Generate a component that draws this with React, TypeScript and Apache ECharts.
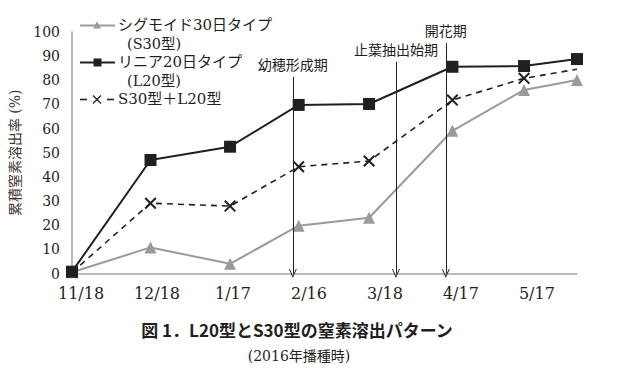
import React, { useEffect, useRef } from "react";
import * as echarts from "echarts";

// days since 11/18 for each measurement
const days = [0, 31, 62.4, 89.5, 117.3, 150.2, 178.5, 199.4];
const s30Values = [0.5, 10.8, 4.0, 19.8, 23.1, 59.1, 76.0, 80.1];
const l20Values = [0.75, 47.0, 52.5, 69.8, 70.2, 85.6, 85.9, 88.8];
const mixValues = [0.5, 29.1, 27.9, 44.2, 46.6, 71.8, 80.8, 84.6];
const tickLabels = ["11/18", "12/18", "1/17", "2/16", "3/18", "4/17", "5/17"];
const stageNames = ["幼穂形成期", "止葉抽出始期", "開花期"];
const stageDays = [87.2, 127.9, 147.6];
const stageTops = [81.4, 87.6, 95.4];

const seriesNames = ["シグモイド30日タイプ(S30型)", "リニア20日タイプ(L20型)", "S30型＋L20型"];

const DARK = "#231f20";
const GRAY = "#9a9a9a";
const JP = '"Noto Sans CJK JP", sans-serif';
const MIX = '"DejaVu Serif", "Noto Sans CJK JP", serif';
const NUM = '"DejaVu Serif", serif';

const CROSS = "path://M0,1.2 L1.2,0 L10,8.8 L8.8,10 Z M8.8,0 L10,1.2 L1.2,10 L0,8.8 Z";
const CHEVRON = "path://M5,0 L10,10 L8.8,10 L5,2.4 L1.2,10 L0,10 Z";

export default function App() {
  const ref = useRef<HTMLDivElement>(null);
  useEffect(() => {
    if (!ref.current) return;
    const chart = echarts.init(ref.current, undefined, { renderer: "svg" });
    const pair = (vals: number[]) => vals.map((v, i) => [days[i], v]);
    const mixData: any[] = pair(mixValues).map((p, i) =>
      i === mixValues.length - 1 ? { value: p, symbol: "none" } : p
    );
    const markData = stageNames.map((n, i) => [
      { coord: [stageDays[i], stageTops[i]], name: n },
      { coord: [stageDays[i], 0] },
    ]);
    const legendText = (x: number, y: number, text: string, size: number) => ({
      type: "text",
      x,
      y,
      style: { text, fill: DARK, font: `${size}px ${MIX}`, verticalAlign: "middle", lineHeight: 16 },
    });
    chart.setOption({
      animation: false,
      grid: { left: 72, right: 62, top: 32, bottom: 107.5 },
      xAxis: {
        type: "value",
        min: 0,
        max: days[days.length - 1],
        interval: 30,
        axisLine: { show: true, lineStyle: { color: "#a6a6a6", width: 1.5 } },
        axisTick: { show: false },
        splitLine: { show: false },
        axisLabel: {
          showMaxLabel: false,
          margin: 12,
          padding: [0, 0, 0, 18],
          color: DARK,
          fontFamily: NUM,
          fontSize: 16,
          formatter: (v: number) => {
            const k = v / 30;
            return Number.isInteger(k) && tickLabels[k] ? tickLabels[k] : "";
          },
        },
      },
      yAxis: {
        type: "value",
        min: 0,
        max: 100,
        interval: 10,
        name: "累積窒素溶出率 (%)",
        nameLocation: "middle",
        nameRotate: 90,
        nameGap: 50,
        nameTextStyle: { color: "#3d3530", fontFamily: MIX, fontSize: 14 },
        axisLine: { show: true, lineStyle: { color: "#a6a6a6", width: 1.5 } },
        axisTick: { show: false },
        splitLine: { show: false },
        axisLabel: { margin: 12, color: DARK, fontFamily: NUM, fontSize: 14 },
      },
      series: [
        {
          name: seriesNames[0],
          type: "line",
          data: pair(s30Values),
          symbol: "triangle",
          symbolSize: 12,
          lineStyle: { color: GRAY, width: 2 },
          itemStyle: { color: GRAY },
          markLine: {
            silent: true,
            symbol: ["none", CHEVRON],
            symbolSize: [8, 9],
            lineStyle: { color: DARK, width: 1, type: "solid" },
            label: {
              show: true,
              position: "start",
              distance: 6,
              formatter: "{b}",
              color: DARK,
              fontFamily: JP,
              fontSize: 14,
            },
            data: markData,
          },
        },
        {
          name: seriesNames[2],
          type: "line",
          data: mixData,
          symbol: CROSS,
          symbolSize: 12,
          lineStyle: { color: DARK, width: 1.6, type: [6, 5] },
          itemStyle: { color: DARK },
        },
        {
          name: seriesNames[1],
          type: "line",
          data: pair(l20Values),
          symbol: "rect",
          symbolSize: 12,
          lineStyle: { color: DARK, width: 2 },
          itemStyle: { color: DARK },
        },
      ],
      graphic: [
        // legend item 1
        { type: "line", shape: { x1: 80, y1: 25.5, x2: 115, y2: 25.5 }, style: { stroke: GRAY, lineWidth: 2 } },
        { type: "polygon", shape: { points: [[97, 21.5], [101, 28.5], [93, 28.5]] }, style: { fill: GRAY } },
        legendText(118, 25, "シグモイド30日タイプ", 15),
        legendText(127, 44, "(S30型)", 14.5),
        // legend item 2
        { type: "line", shape: { x1: 80, y1: 62.5, x2: 115, y2: 62.5 }, style: { stroke: DARK, lineWidth: 2 } },
        { type: "rect", shape: { x: 93.5, y: 58.5, width: 8, height: 8 }, style: { fill: DARK } },
        legendText(118, 62, "リニア20日タイプ", 15),
        legendText(127, 81, "(L20型)", 14.5),
        // legend item 3
        { type: "line", shape: { x1: 80, y1: 99.5, x2: 87, y2: 99.5 }, style: { stroke: DARK, lineWidth: 1.6 } },
        { type: "line", shape: { x1: 107, y1: 99.5, x2: 114, y2: 99.5 }, style: { stroke: DARK, lineWidth: 1.6 } },
        { type: "line", shape: { x1: 93, y1: 95.5, x2: 101, y2: 103.5 }, style: { stroke: DARK, lineWidth: 1.2 } },
        { type: "line", shape: { x1: 101, y1: 95.5, x2: 93, y2: 103.5 }, style: { stroke: DARK, lineWidth: 1.2 } },
        legendText(118, 99, "S30型＋L20型", 15),
        // figure caption
        {
          type: "text",
          x: 297,
          y: 329,
          style: { text: "図 1．L20型とS30型の窒素溶出パターン", fill: DARK, font: `bold 17px ${JP}`, align: "center", verticalAlign: "middle" },
        },
        {
          type: "text",
          x: 299,
          y: 356,
          style: { text: "(2016年播種時)", fill: DARK, font: `14px ${MIX}`, align: "center", verticalAlign: "middle" },
        },
      ],
    });
    return () => chart.dispose();
  }, []);
  return (
    <div
      ref={ref}
      style={{ position: "fixed", left: 0, top: 0, width: 639, height: 381, background: "#fff" }}
    />
  );
}
